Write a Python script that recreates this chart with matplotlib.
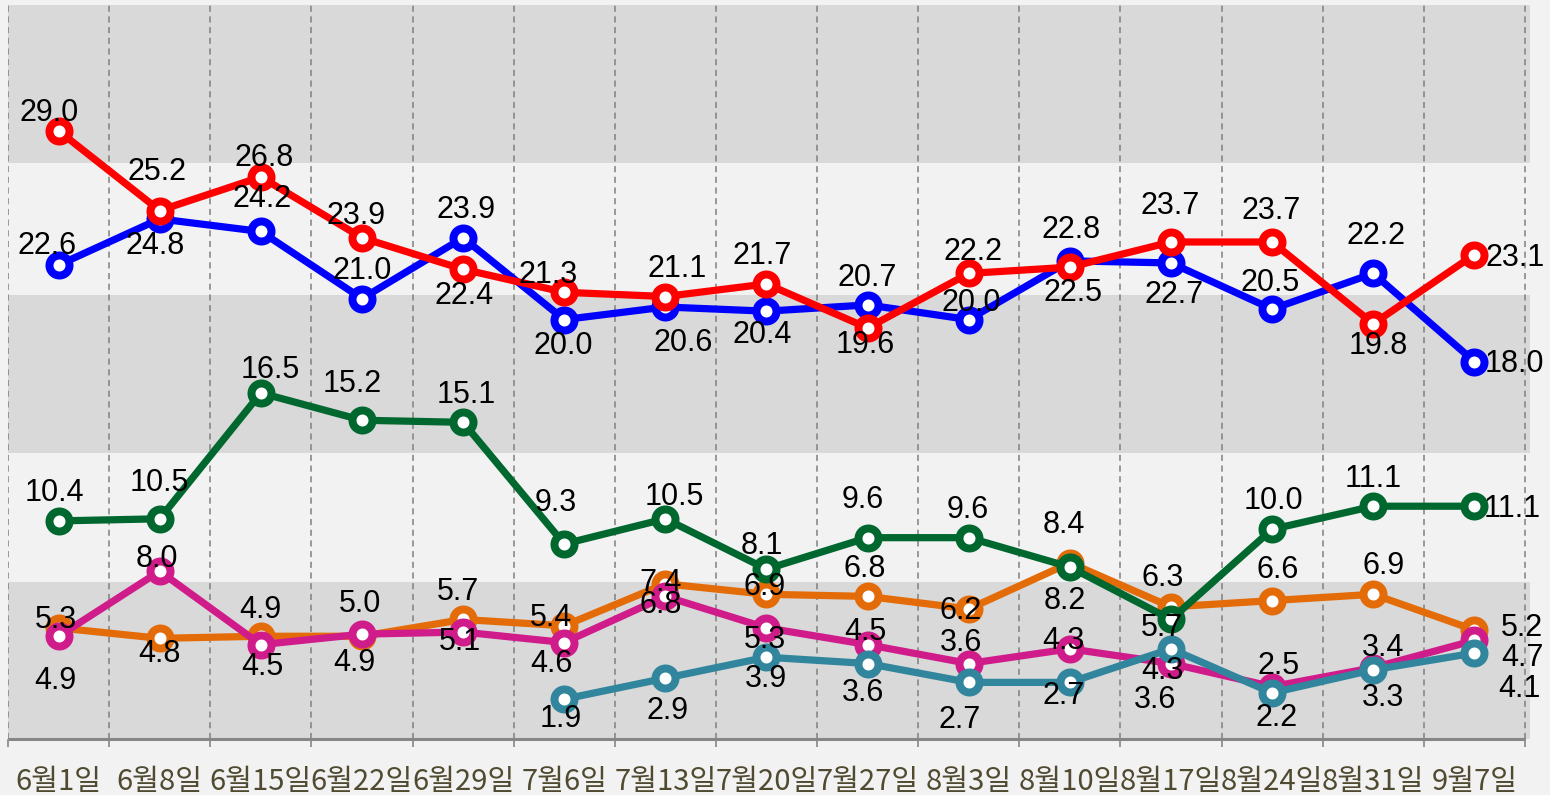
import matplotlib
matplotlib.use("Agg")
import matplotlib.pyplot as plt
import numpy as np

# ---------------- data ----------------
categories = ["6월1일", "6월8일", "6월15일", "6월22일", "6월29일", "7월6일", "7월13일",
              "7월20일", "7월27일", "8월3일", "8월10일", "8월17일", "8월24일", "8월31일", "9월7일"]

blue_vals = [22.6, 24.8, 24.2, 21.0, 23.9, 20.0, 20.6, 20.4, 20.7, 20.0, 22.8, 22.7, 20.5, 22.2, 18.0]
red_vals = [29.0, 25.2, 26.8, 23.9, 22.4, 21.3, 21.1, 21.7, 19.6, 22.2, 22.5, 23.7, 23.7, 19.8, 23.1]
orange_vals = [5.3, 4.8, 4.9, 4.9, 5.7, 5.4, 7.4, 6.9, 6.8, 6.2, 8.4, 6.3, 6.6, 6.9, 5.2]
magenta_vals = [4.9, 8.0, 4.5, 5.0, 5.1, 4.6, 6.8, 5.3, 4.5, 3.6, 4.3, 3.6, 2.5, 3.4, 4.7]
green_vals = [10.4, 10.5, 16.5, 15.2, 15.1, 9.3, 10.5, 8.1, 9.6, 9.6, 8.2, 5.7, 10.0, 11.1, 11.1]
teal_vals = [None, None, None, None, None, 1.9, 2.9, 3.9, 3.6, 2.7, 2.7, 4.3, 2.2, 3.3, 4.1]

# ---------------- label placement (pixels: dx right, dy down) ----------------
blue_off = [(-12, -22), (-5, 24), (1, -35), (0, -31), (3, -31), (-1, 23), (18, 33), (-4, 21),
            (0, -30), (3, -20), (1, -34), (3, 29), (-2, -29), (3, -40), (40, 0)]
red_off = [(-9, -21), (-3, -41), (3, -22), (-6, -25), (1, 24), (-16, -20), (12, -30), (-4, -31),
           (-2, 14), (4, -24), (3, 23), (-1, -39), (-1, -34), (5, 19), (41, 0)]
orange_off = [(-3, -11), (0, 13), (0, -29), (-8, 24), (-5, -30), (-13, -11), (-5, -4), (-2, -10),
              (-3, -30), (-8, -1), (-6, -41), (-8, -32), (6, -34), (10, -31), (48, -5)]
magenta_off = [(-3, 42), (-3, -15), (2, 19), (-2, -33), (-3, 7), (-13, 18), (-5, 6), (-2, 9),
               (-2, -16), (-8, -23), (-6, -11), (-16, 34), (6, -24), (10, -23), (48, 15)]
green_off = [(-4, -31), (0, -39), (9, -26), (-10, -39), (3, -30), (-8, -44), (9, -25), (-5, -26),
             (-5, -41), (-1, -31), (-5, 31), (-9, 6), (1, -31), (0, -30), (38, 0)]
teal_off = [None, None, None, None, None, (-3, 17), (2, 30), (-1, 19), (-5, 27), (-9, 35),
            (-6, 11), (-9, 19), (4, 22), (10, 25), (45, 33)]

series = [
    (blue_vals, "#0000ff", blue_off),
    (red_vals, "#ff0000", red_off),
    (orange_vals, "#e36c09", orange_off),
    (magenta_vals, "#d01c8b", magenta_off),
    (green_vals, "#00682e", green_off),
    (teal_vals, "#31859c", teal_off),
]

# ---------------- figure ----------------
W, H = 1550, 795
fig = plt.figure(figsize=(W / 100, H / 100), dpi=100, facecolor="#f2f2f2")
ax_left, ax_right, ax_top, ax_bottom = 8, 1530, 5, 739
ax = fig.add_axes([ax_left / W, 1 - ax_bottom / H, (ax_right - ax_left) / W, (ax_bottom - ax_top) / H])
ax.set_facecolor("#f2f2f2")
n = len(categories)
x = np.arange(n)
ax.set_xlim(-0.5, n - 1 + 0.55)
ax.set_ylim(0, 35)

# bands
for lo, hi in [(0, 7.49), (13.64, 21.17), (27.47, 35)]:
    ax.axhspan(lo, hi, color="#d9d9d9", lw=0, zorder=0)

# vertical dashed lines at category boundaries
for b in np.arange(-0.5, n, 1.0):
    ax.axvline(b, color="#808080", lw=1.1, ls=(0, (4, 3)), zorder=1)

for s in ax.spines.values():
    s.set_visible(False)
ax.plot([-0.5, n - 0.5], [0, 0], color="#868686", lw=2.2, zorder=2, clip_on=False,
        solid_capstyle="butt")

ax.set_yticks([])
ax.set_xticks(x)
ax.set_xticklabels(categories, family=["Noto Sans CJK KR", "DejaVu Sans"], fontsize=21,
                   color="#4f4a30")
ax.tick_params(axis="x", which="major", length=0, pad=20)
ax.set_xticks(np.arange(-0.5, n, 1.0), minor=True)
ax.tick_params(axis="x", which="minor", length=6, width=1.2, color="#868686", direction="out")

ms_px, mew_px = 20, 8
for z, (vals, col, offs) in enumerate(series):
    y = np.array([np.nan if v is None else v for v in vals], dtype=float)
    ax.plot(x, y, color=col, lw=5.2, marker="o", ms=ms_px * 0.72, mew=mew_px * 0.72,
            mec=col, mfc="white", zorder=3 + z, solid_joinstyle="round", clip_on=False)

for vals, col, offs in series:
    for i, v in enumerate(vals):
        if v is None:
            continue
        dx, dy = offs[i]
        ax.annotate(f"{v:.1f}", (x[i], v), xytext=(dx * 0.72, -dy * 0.72 - 7.9),
                    textcoords="offset points", ha="center", va="baseline",
                    fontsize=22, family="Liberation Sans", color="black", zorder=20,
                    annotation_clip=False)

fig.savefig("out.png", dpi=100, facecolor=fig.get_facecolor())
